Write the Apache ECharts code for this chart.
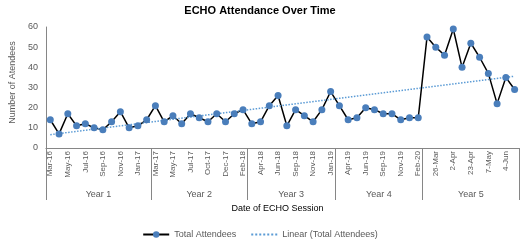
<!DOCTYPE html>
<html>
<head>
<meta charset="utf-8">
<script src="https://cdn.jsdelivr.net/npm/echarts@6/dist/echarts.min.js"></script>
<style>
html,body{margin:0;padding:0;background:#fff;}
#chart{width:520px;height:240px;}
</style>
</head>
<body>
<div id="chart"></div>
<script>
//日期（每两个显示一个标签）
var sessions = [
	'Mar-16','Apr-16','May-16','Jun-16','Jul-16','Aug-16','Sep-16','Oct-16','Nov-16','Dec-16','Jan-17','Feb-17',
	'Mar-17','Apr-17','May-17','Jun-17','Jul-17','Sep-17','Oct-17','Nov-17','Dec-17','Jan-18','Feb-18',
	'Mar-18','Apr-18','May-18','Jun-18','Jul-18','Sep-18','Oct-18','Nov-18','Dec-18','Jan-19',
	'Mar-19','Apr-19','May-19','Jun-19','Jul-19','Sep-19','Oct-19','Nov-19','Jan-20','Feb-20',
	'19-Mar','26-Mar','30-Mar','2-Apr','16-Apr','23-Apr','30-Apr','7-May','21-May','4-Jun','18-Jun'
];
//人数
var attendees = [
	14, 7, 17, 11, 12, 10, 9, 13, 18, 10, 11, 14,
	21, 13, 16, 12, 17, 15, 13, 17, 13, 17, 19,
	12, 13, 21, 26, 11, 19, 16, 13, 19, 28,
	21, 14, 15, 20, 19, 17, 17, 14, 15, 15,
	55, 50, 46, 59, 40, 52, 45, 37, 22, 35, 29
];
//趋势线两端
var trendStart = 6.6;
var trendEnd = 35.6;
//年份分组
var years = ['Year 1','Year 2','Year 3','Year 4','Year 5'];
var yearBreaks = [0, 12, 23, 33, 43, 54];
var yTicks = [0, 10, 20, 30, 40, 50, 60];

var yearMid = [];
for (var i = 0; i < years.length; i++) {
	yearMid.push((yearBreaks[i] + yearBreaks[i + 1]) / 2);
}
var trendData = [[0, trendStart], [sessions.length - 1, trendEnd]];

var gray = '#595959';
var font = 'Liberation Sans';
var myChart = echarts.init(document.getElementById('chart'));
var option = {
	animation: false,
	title: {
		text: 'ECHO Attendance Over Time',
		left: 'center',
		top: 0,
		textStyle: { fontFamily: font, fontSize: 11, fontWeight: 'bold', color: '#000' }
	},
	legend: {
		top: 225,
		left: 'center',
		itemWidth: 26,
		itemHeight: 8,
		itemGap: 14,
		textStyle: { fontFamily: font, fontSize: 9, color: gray },
		data: [
			{ name: 'Total Attendees' },
			{ name: 'Linear (Total Attendees)', itemStyle: { opacity: 0 } }
		]
	},
	grid: { left: 31, right: 1, top: 27, bottom: 92 },
	xAxis: [{
		type: 'category',
		data: sessions,
		boundaryGap: true,
		axisLine: { lineStyle: { color: '#868686', width: 1 } },
		axisTick: { show: false },
		axisLabel: {
			rotate: 90,
			interval: 1,
			margin: 3,
			fontFamily: font,
			fontSize: 8,
			color: gray
		}
	}, {
		type: 'value',
		position: 'bottom',
		min: 0,
		max: sessions.length,
		splitLine: { show: false },
		axisLine: { show: false },
		axisTick: {
			show: true,
			length: 52,
			customValues: yearBreaks,
			lineStyle: { color: '#868686' }
		},
		axisLabel: {
			customValues: yearMid,
			margin: 42,
			fontFamily: font,
			fontSize: 9,
			color: gray,
			formatter: function (v) {
				var idx = yearMid.indexOf(v);
				return idx >= 0 ? years[idx] : '';
			}
		},
		name: 'Date of ECHO Session',
		nameLocation: 'middle',
		nameGap: 56,
		nameTextStyle: { fontFamily: font, fontSize: 9, color: '#000', padding: [0, 10, 0, 0] }
	}],
	yAxis: {
		type: 'value',
		min: 0,
		max: 60,
		interval: 10,
		splitLine: { show: false },
		axisLine: { show: true, lineStyle: { color: '#868686' } },
		axisTick: { show: false },
		axisLabel: { fontFamily: font, fontSize: 9, color: gray, margin: 8 },
		name: 'Number of Atendees',
		nameLocation: 'middle',
		nameGap: 25,
		nameTextStyle: { fontFamily: font, fontSize: 9, color: gray, padding: [0, 0, 0, 10] }
	},
	series: [{
		name: 'Total Attendees',
		type: 'line',
		data: attendees,
		symbol: 'circle',
		symbolSize: 7,
		showAllSymbol: true,
		lineStyle: { color: '#000', width: 1.5 },
		itemStyle: { color: '#4a7ebb' }
	}, {
		name: 'Linear (Total Attendees)',
		type: 'line',
		data: trendData,
		symbol: 'none',
		lineStyle: { color: '#5b9bd5', width: 1.5, type: 'dotted' },
		itemStyle: { color: '#5b9bd5' }
	}]
};
myChart.setOption(option);
</script>
</body>
</html>
